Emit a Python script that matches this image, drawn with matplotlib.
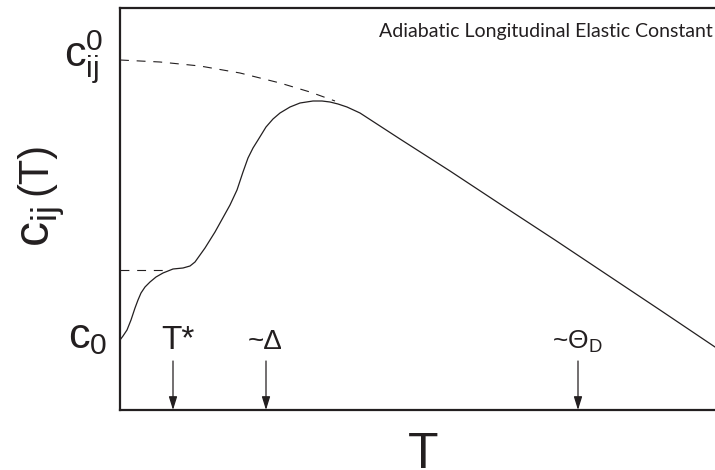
import matplotlib
matplotlib.use("Agg")
import matplotlib.pyplot as plt

plt.rcParams["font.family"] = ["Liberation Sans", "DejaVu Sans"]
plt.rcParams["mathtext.fontset"] = "custom"
plt.rcParams["mathtext.rm"] = "Liberation Sans"
plt.rcParams["mathtext.it"] = "Liberation Sans:italic"
plt.rcParams["mathtext.bf"] = "Liberation Sans:bold"

INK = "#231f20"

# measured elastic constant curve (arbitrary units)
temp = [0, 3, 7, 11, 15, 18, 21, 25, 30, 36, 43, 53, 63, 70, 75, 80, 85, 90,
        95, 100, 105, 110, 117, 123, 128, 133, 138, 146, 153, 160, 170, 180,
        193, 202, 210, 218, 227, 240, 280, 330, 380, 435, 480, 540, 595]
cij = [70, 74, 80, 90, 102, 110, 117, 123, 128, 133, 137, 141, 142, 144, 148,
       155, 162, 170, 178, 187, 196, 205, 220, 238, 252, 262, 270, 283, 291,
       297, 303, 307, 309, 309, 308, 306, 303, 297, 271, 239, 206, 170, 140,
       100, 63]

# dashed background (no gap) curve
bg_temp = [0, 40, 80, 120, 160, 190, 215]
bg_cij = [350, 348, 344, 337, 327, 318, 309]

# dashed low-T plateau
plat_temp = [0, 50]
plat_cij = [140, 140]

# marked temperatures
mark_pos = [53, 146, 458]
mark_labels = ["T*", "~Δ", r"~$\Theta_{\mathrm{D}}$"]
mark_sizes = [24, 20, 19]

fig = plt.figure(figsize=(7.15, 4.70), dpi=100)
ax = fig.add_axes([120 / 715, 60 / 470, 595 / 715, 402 / 470])

ax.plot(temp, cij, color=INK, lw=0.9, solid_joinstyle="round")
ax.plot(bg_temp, bg_cij, color=INK, lw=0.8, dashes=(8, 7))
ax.plot(plat_temp, plat_cij, color=INK, lw=0.8, dashes=(8, 7))

ax.set_xlim(0, 595)
ax.set_ylim(0, 402)
ax.set_xticks([])
ax.set_yticks([])
ax.spines["right"].set_visible(False)
for s in ["left", "bottom", "top"]:
    ax.spines[s].set_linewidth(1.6)
    ax.spines[s].set_color(INK)

# arrows and labels for characteristic temperatures
for x, lab, fs in zip(mark_pos, mark_labels, mark_sizes):
    ax.annotate("", xy=(x, 0), xytext=(x, 49),
                arrowprops=dict(arrowstyle="-|>,head_length=0.8,head_width=0.25",
                                lw=0.9, color=INK, shrinkA=0, shrinkB=0))
    ax.text(x + (5 if lab == "T*" else -1), 61, lab, fontsize=fs, color=INK,
            ha="center", va="baseline")

# value labels on the left
ax.text(-17, 343, r"$\mathrm{c}_{\mathrm{ij}}^{\mathrm{0}}$", fontsize=31,
        color=INK, ha="right", va="baseline", clip_on=False)
ax.text(-13, 62, r"$\mathrm{c}_{\mathrm{0}}$", fontsize=31,
        color=INK, ha="right", va="baseline", clip_on=False)

ax.text(593, 373, "Adiabatic Longitudinal Elastic Constant", fontsize=14,
        family="Lato", color=INK, ha="right", va="baseline")

# axis labels
fig.text(50 / 715, 1 - 227 / 470, r"$\mathrm{c}_{\mathrm{ij}}$", fontsize=36,
         color=INK, rotation=90, rotation_mode="anchor", ha="center", va="baseline")
fig.text(46 / 715, 1 - 168 / 470, "(T)", fontsize=30,
         color=INK, rotation=90, rotation_mode="anchor", ha="center", va="baseline")
fig.text(423 / 715, 1 - 468 / 470, "T", fontsize=36, color=INK,
         ha="center", va="baseline")

fig.savefig("out.png", dpi=100)
